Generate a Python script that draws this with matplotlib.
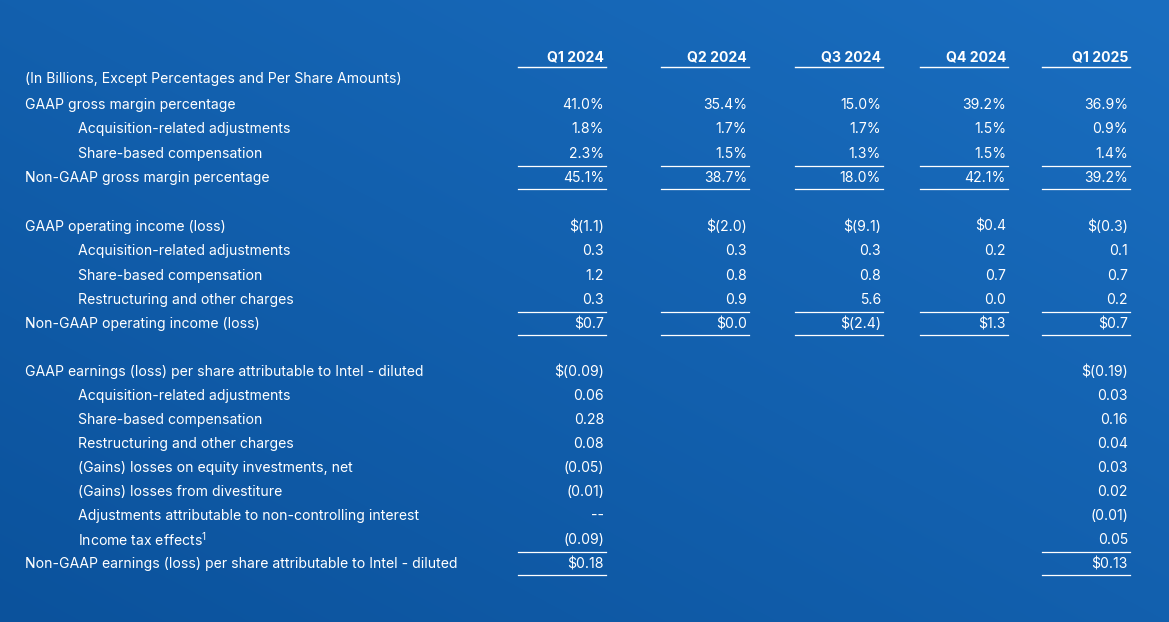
import matplotlib.pyplot as plt
import numpy as np

W, H = 1169, 622
columns = ["Q1 2024", "Q2 2024", "Q3 2024", "Q4 2024", "Q1 2025"]
subtitle = "(In Billions, Except Percentages and Per Share Amounts)"

gm_labels = ["GAAP gross margin percentage", "Acquisition-related adjustments",
             "Share-based compensation", "Non-GAAP gross margin percentage"]
gm_values = [["41.0%", "35.4%", "15.0%", "39.2%", "36.9%"],
             ["1.8%", "1.7%", "1.7%", "1.5%", "0.9%"],
             ["2.3%", "1.5%", "1.3%", "1.5%", "1.4%"],
             ["45.1%", "38.7%", "18.0%", "42.1%", "39.2%"]]

oi_labels = ["GAAP operating income (loss)", "Acquisition-related adjustments",
             "Share-based compensation", "Restructuring and other charges",
             "Non-GAAP operating income (loss)"]
oi_values = [["$(1.1)", "$(2.0)", "$(9.1)", "$0.4", "$(0.3)"],
             ["0.3", "0.3", "0.3", "0.2", "0.1"],
             ["1.2", "0.8", "0.8", "0.7", "0.7"],
             ["0.3", "0.9", "5.6", "0.0", "0.2"],
             ["$0.7", "$0.0", "$(2.4)", "$1.3", "$0.7"]]

eps_labels = ["GAAP earnings (loss) per share attributable to Intel - diluted",
              "Acquisition-related adjustments", "Share-based compensation",
              "Restructuring and other charges", "(Gains) losses on equity investments, net",
              "(Gains) losses from divestiture", "Adjustments attributable to non-controlling interest",
              "Income tax effects$^{\\mathregular{1}}$",
              "Non-GAAP earnings (loss) per share attributable to Intel - diluted"]
eps_values = [["$(0.09)", "", "", "", "$(0.19)"],
              ["0.06", "", "", "", "0.03"],
              ["0.28", "", "", "", "0.16"],
              ["0.08", "", "", "", "0.04"],
              ["(0.05)", "", "", "", "0.03"],
              ["(0.01)", "", "", "", "0.02"],
              ["--", "", "", "", "(0.01)"],
              ["(0.09)", "", "", "", "0.05"],
              ["$0.18", "", "", "", "$0.13"]]

plt.rcParams["font.family"] = "Inter"
fig = plt.figure(figsize=(W/100, H/100), dpi=100)
ax = fig.add_axes([0, 0, 1, 1])
ax.set_xlim(0, W); ax.set_ylim(H, 0); ax.axis("off")

# background gradient
yy, xx = np.mgrid[0:H, 0:W]
t = 0.5*(xx/W) + 0.5*(1 - yy/H)
c0 = np.array([0x0b, 0x52, 0x9c]) / 255
c1 = np.array([0x1a, 0x6e, 0xc0]) / 255
img = c0[None, None, :]*(1-t[..., None]) + c1[None, None, :]*t[..., None]
ax.imshow(img, extent=[0, W, H, 0], aspect="auto", zorder=0)

col_right = [604, 747, 881, 1006, 1128]
col_w = 86
fs = 10.1
white = "white"

for x, c in zip(col_right, columns):
    ax.text(x, 57, c, ha="right", va="center", color=white, fontsize=fs, fontweight="bold")
    ax.plot([x-col_w, x+2], [67, 67], color=white, lw=1)
ax.text(25, 79, subtitle, ha="left", va="center", color=white, fontsize=fs)

def block(labels, values, y0, step=24.3):
    n = len(labels)
    for i, (lab, vals) in enumerate(zip(labels, values)):
        y = y0 + i*step
        indent = 0 < i < n-1
        ax.text(78 if indent else 25, y, lab, ha="left", va="center", color=white, fontsize=fs)
        for x, v in zip(col_right, vals):
            if v:
                ax.text(x, y, v, ha="right", va="center", color=white, fontsize=fs)
    ylast = y0 + (n-1)*step
    for x, v in zip(col_right, values[-1]):
        if v:
            ax.plot([x-col_w, x+2], [ylast-12, ylast-12], color=white, lw=0.9)
            ax.plot([x-col_w, x+2], [ylast+11, ylast+11], color=white, lw=0.9)

block(gm_labels, gm_values, 105)
block(oi_labels, oi_values, 227)
block(eps_labels, eps_values, 372, step=24.0)

fig.savefig("out.png", dpi=100)
